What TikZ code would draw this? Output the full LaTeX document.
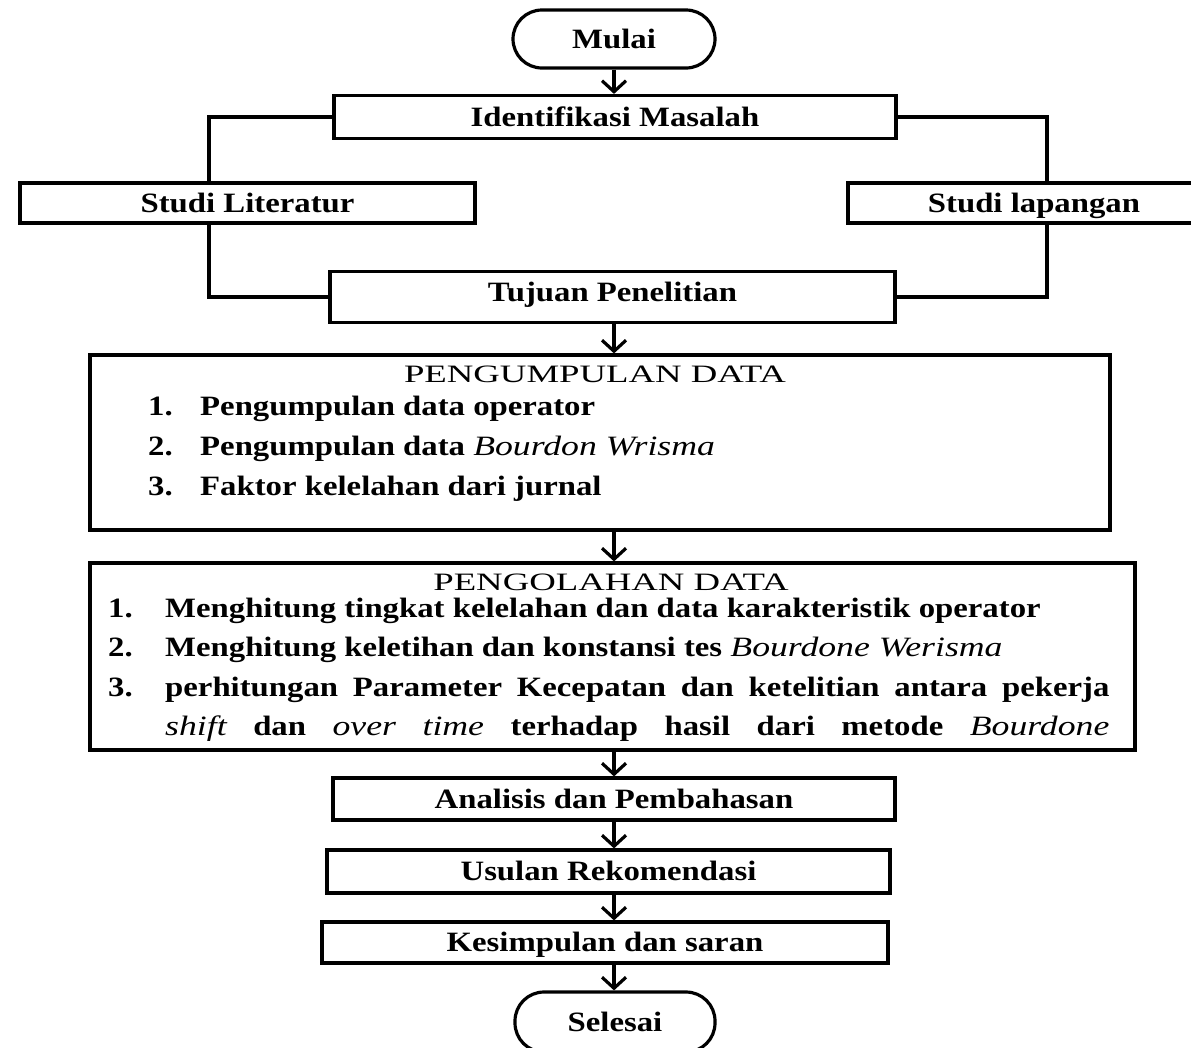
\documentclass[tikz,border=0pt]{standalone}
\usepackage{graphicx}
\usepackage{fontspec}
\setmainfont{Liberation Serif}
\usetikzlibrary{arrows.meta}
\newcommand{\sx}[1]{\scalebox{1.17}[1]{#1}}
\newcommand{\tx}[1]{\scalebox{1.47}[1]{#1}}
\newcommand{\ital}[1]{\scalebox{1.09}[1]{\mdseries\itshape #1}}
\begin{document}
\begin{tikzpicture}[x=1pt,y=-1pt,
  box/.style={draw, line width=3.2pt, inner sep=0pt, font=\fontsize{28}{34}\selectfont\bfseries, text height=19.6pt, text depth=1pt},
  term/.style={box, rounded corners=29pt},
  ttl/.style={inner sep=0pt, font=\fontsize{25}{30}\selectfont, text height=17pt, text depth=0pt},
  itm/.style={inner sep=0pt, anchor=west, font=\fontsize{28}{34}\selectfont\bfseries, text height=19.6pt, text depth=7pt},
  conn/.style={line width=3.2pt},
  arr/.style={line width=3.2pt, -{Straight Barb[length=11pt,width=24pt]}}]
\useasboundingbox (0,0) rectangle (1191,1047);
% axis coordinates
\coordinate (ax) at (614,0);
\coordinate (xl) at (209,0);
\coordinate (xr) at (1047,0);
% nodes
\node[term, minimum width=202pt, minimum height=58pt] (mulai) at (614,39) {\sx{Mulai}};
\node[box, minimum width=562pt, minimum height=43pt] (ident) at (615,117) {\sx{Identifikasi Masalah}};
\node[box, minimum width=455pt, minimum height=40pt] (sl) at (247.5,203) {\sx{Studi Literatur}};
\node[box, minimum width=372pt, minimum height=40pt] (sp) at (1034,203) {\sx{Studi lapangan}};
\node[box, minimum width=565pt, minimum height=51pt, text depth=11pt] (tuj) at (612.5,297) {\sx{Tujuan Penelitian}};
\node[box, minimum width=1020pt, minimum height=175pt] (pg) at (600,442.5) {};
\node[box, minimum width=1045pt, minimum height=187pt] (po) at (612.5,656.5) {};
\node[box, minimum width=562pt, minimum height=42pt] (ana) at (614,799) {\sx{Analisis dan Pembahasan}};
\node[box, minimum width=563pt, minimum height=43pt] (usu) at (608.5,871.5) {\sx{Usulan Rekomendasi}};
\node[box, minimum width=566pt, minimum height=41pt] (kes) at (605,942.5) {\sx{Kesimpulan dan saran}};
\node[term, minimum width=200pt, minimum height=60pt] (sel) at (615,1022) {\sx{Selesai}};
% PENGUMPULAN DATA content
\node[ttl] (pgt) at (595,373.5) {\tx{PENGUMPULAN DATA}};
\node[itm] (pg1n) at (148,409) {\sx{1.}};
\node[itm] (pg1) at (200,409) {\sx{Pengumpulan data operator}};
\node[itm] (pg2n) at (148,449) {\sx{2.}};
\node[itm] (pg2) at (200,449) {\sx{Pengumpulan data \ital{Bourdon Wrisma}}};
\node[itm] (pg3n) at (148,489) {\sx{3.}};
\node[itm] (pg3) at (200,489) {\sx{Faktor kelelahan dari jurnal}};
% PENGOLAHAN DATA content
\node[ttl] (pot) at (611,581.5) {\tx{PENGOLAHAN DATA}};
\node[itm] (po1n) at (108,611) {\sx{1.}};
\node[itm] (po1) at (165,611) {\sx{Menghitung tingkat kelelahan dan data karakteristik operator}};
\node[itm] (po2n) at (108,650) {\sx{2.}};
\node[itm] (po2) at (165,650) {\sx{Menghitung keletihan dan konstansi tes \ital{Bourdone Werisma}}};
\node[itm] (po3n) at (108,690) {\sx{3.}};
\node[itm] (po3) at (165,690) {\sx{\makebox[807pt][s]{perhitungan Parameter Kecepatan dan ketelitian antara pekerja}}};
\node[itm] (po3b) at (165,729) {\sx{\makebox[807pt][s]{\ital{shift} dan \ital{over} \ital{time} terhadap hasil dari metode \ital{Bourdone}}}};
% connectors
\draw[arr] (mulai.south) -- (ident.north -| mulai.south);
\draw[conn] (ident.west) -| (sl.north -| xl);
\draw[conn] (ident.east) -| (sp.north -| xr);
\draw[conn] (sl.south -| xl) |- (tuj.west);
\draw[conn] (sp.south -| xr) |- (tuj.east);
\draw[arr] (tuj.south -| ax) -- (pg.north -| ax);
\draw[arr] (pg.south -| ax) -- (po.north -| ax);
\draw[arr] (po.south -| ax) -- (ana.north -| ax);
\draw[arr] (ana.south -| ax) -- (usu.north -| ax);
\draw[arr] (usu.south -| ax) -- (kes.north -| ax);
\draw[arr] (kes.south -| ax) -- (sel.north -| ax);
\end{tikzpicture}
\end{document}
